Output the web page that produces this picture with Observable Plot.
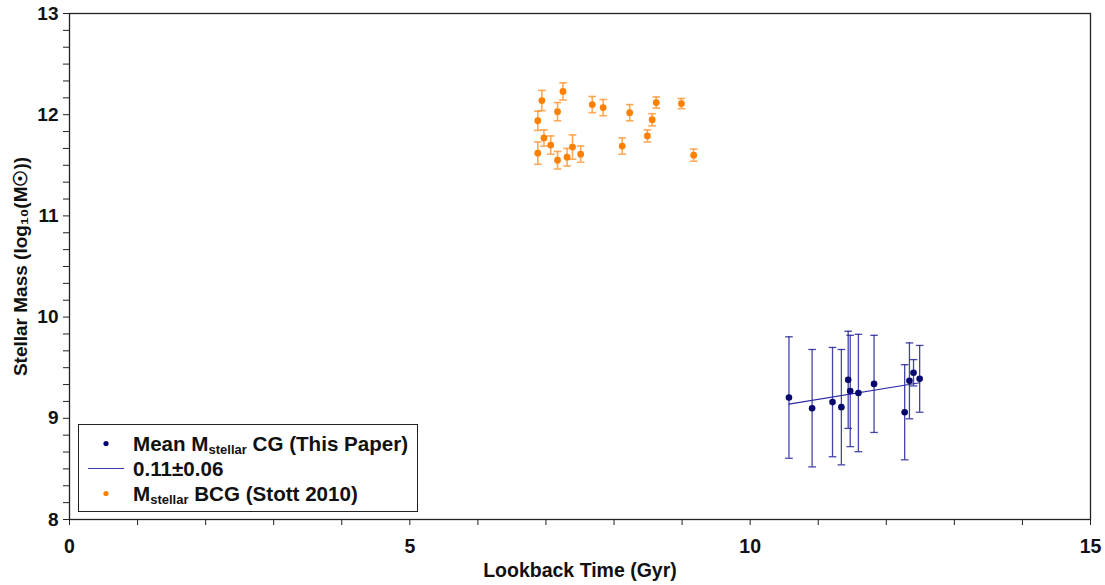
<!DOCTYPE html>
<html>
<head>
<meta charset="utf-8">
<script src="https://cdn.jsdelivr.net/npm/d3@7"></script>
<script src="https://cdn.jsdelivr.net/npm/@observablehq/plot@0.6"></script>
<style>
  html, body { margin: 0; padding: 0; background: #fff; }
  #wrap { position: relative; width: 1105px; height: 585px; font-family: "Liberation Sans", Arial, sans-serif; }
  #legend { position: absolute; left: 78px; top: 424px; width: 338px; height: 86px; border: 1.5px solid #222; background: #fff; font-weight: bold; font-size: 20.6px; color: #111; }
  .row { position: absolute; left: 0; height: 25px; width: 100%; }
  .row .txt { position: absolute; left: 54px; top: 0; line-height: 25px; white-space: nowrap; }
  .row sub { font-size: 13px; vertical-align: -3px; line-height: 0; }
  .mk { position: absolute; }
</style>
</head>
<body>
<div id="wrap"></div>
<script>
// ---- Data ----
// Stott 2010 BCGs: lookback time (Gyr), log stellar mass, error
const bcgTime = [6.88, 6.94, 6.88, 6.97, 7.07, 7.17, 7.25, 7.17, 7.31, 7.39, 7.51, 7.68, 7.84, 8.12, 8.23, 8.49, 8.56, 8.62, 8.99, 9.17];
const bcgMass = [11.94, 12.14, 11.62, 11.77, 11.70, 12.03, 12.23, 11.55, 11.58, 11.68, 11.61, 12.10, 12.07, 11.69, 12.02, 11.79, 11.95, 12.12, 12.11, 11.60];
const bcgErr  = [0.095, 0.10, 0.11, 0.08, 0.09, 0.09, 0.085, 0.087, 0.087, 0.12, 0.08, 0.08, 0.08, 0.08, 0.08, 0.06, 0.06, 0.055, 0.05, 0.06];

// This paper: mean CG stellar mass
const cgTime = [10.57, 10.91, 11.21, 11.34, 11.44, 11.47, 11.59, 11.82, 12.27, 12.34, 12.40, 12.49];
const cgMass = [9.205, 9.10, 9.16, 9.11, 9.38, 9.27, 9.25, 9.34, 9.06, 9.37, 9.45, 9.39];
const cgErr  = [0.60, 0.58, 0.54, 0.57, 0.48, 0.55, 0.58, 0.48, 0.47, 0.375, 0.13, 0.33];

// Linear fit: slope 0.11 +/- 0.06
const fitSlope = 0.11;
const fitIntercept = 7.977;

// Tick values
const xTicks = d3.range(0, 16);
const yTicks = d3.range(0, 31).map(i => 8 + i / 6);

// ---- Build tables ----
const bcg = bcgTime.map((t, i) => ({t, m: bcgMass[i], e: bcgErr[i]}));
const cg = cgTime.map((t, i) => ({t, m: cgMass[i], e: cgErr[i]}));
const fitX = [d3.min(cgTime), d3.max(cgTime)];
const fit = fitX.map(t => ({t, m: fitIntercept + fitSlope * t}));

const cap = { draw(ctx, size) { const r = Math.sqrt(size / Math.PI); ctx.moveTo(-r, 0); ctx.lineTo(r, 0); } };

const blueBar = "#23239a";
const blueDot = "#06066e";
const orange = "#ff7f00";
const orangeBar = "#ff9a3c";

const chart = Plot.plot({
  width: 1105, height: 585,
  marginLeft: 69, marginRight: 15, marginTop: 13, marginBottom: 66,
  style: { fontFamily: "Liberation Sans, Arial, sans-serif", fontSize: "19px", fontWeight: "bold", color: "#111", background: "#fff" },
  x: { domain: [0, 15] },
  y: { domain: [8, 13] },
  marks: [
    Plot.frame({ stroke: "#222", strokeWidth: 1.3 }),
    Plot.axisX({ ticks: xTicks, tickFormat: d => (d % 5 === 0 ? String(d) : ""), tickSize: 6, tickPadding: 14, stroke: "#222",
      label: "Lookback Time (Gyr)", labelAnchor: "center", labelArrow: "none", labelOffset: 57, fontSize: "19.5px" }),
    Plot.axisY({ ticks: yTicks, tickFormat: d => (Math.abs(d - Math.round(d)) < 1e-6 ? String(Math.round(d)) : ""), tickSize: 6, tickPadding: 5, stroke: "#222",
      label: "Stellar Mass (log₁₀(M☉))", labelAnchor: "center", labelArrow: "none", labelOffset: 56 }),
    // BCG error bars
    Plot.ruleX(bcg, { x: "t", y1: d => d.m - d.e, y2: d => d.m + d.e, stroke: orangeBar, strokeWidth: 1.6, strokeOpacity: 0.85 }),
    Plot.dot(bcg, { x: "t", y: d => d.m - d.e, symbol: cap, r: 3.8, stroke: orangeBar, strokeWidth: 1.6, strokeOpacity: 0.85 }),
    Plot.dot(bcg, { x: "t", y: d => d.m + d.e, symbol: cap, r: 3.8, stroke: orangeBar, strokeWidth: 1.6, strokeOpacity: 0.85 }),
    Plot.dot(bcg, { x: "t", y: "m", r: 3.4, fill: orange }),
    // CG error bars
    Plot.ruleX(cg, { x: "t", y1: d => d.m - d.e, y2: d => d.m + d.e, stroke: blueBar, strokeWidth: 1.3, strokeOpacity: 0.85 }),
    Plot.dot(cg, { x: "t", y: d => d.m - d.e, symbol: cap, r: 3.8, stroke: blueBar, strokeWidth: 1.3, strokeOpacity: 0.85 }),
    Plot.dot(cg, { x: "t", y: d => d.m + d.e, symbol: cap, r: 3.8, stroke: blueBar, strokeWidth: 1.3, strokeOpacity: 0.85 }),
    // fit line
    Plot.line(fit, { x: "t", y: "m", stroke: "#2a2aa6", strokeWidth: 1.1 }),
    Plot.dot(cg, { x: "t", y: "m", r: 3.3, fill: blueDot })
  ]
});

const wrap = document.getElementById("wrap");
wrap.appendChild(chart);

// Legend
const legend = document.createElement("div");
legend.id = "legend";
legend.innerHTML = `
  <div class="row" style="top:6px">
    <svg class="mk" width="50" height="25" style="left:0;top:0"><circle cx="27" cy="12.5" r="2.6" fill="${blueDot}"/></svg>
    <span class="txt">Mean M<sub>stellar</sub> CG (This Paper)</span>
  </div>
  <div class="row" style="top:31px">
    <svg class="mk" width="50" height="25" style="left:0;top:0"><line x1="9" x2="45" y1="12.5" y2="12.5" stroke="#3a3ab0" stroke-width="1"/></svg>
    <span class="txt">0.11±0.06</span>
  </div>
  <div class="row" style="top:56px">
    <svg class="mk" width="50" height="25" style="left:0;top:0"><circle cx="27" cy="12.5" r="2.6" fill="${orange}"/></svg>
    <span class="txt">M<sub>stellar</sub> BCG (Stott 2010)</span>
  </div>`;
wrap.appendChild(legend);
</script>
</body>
</html>
